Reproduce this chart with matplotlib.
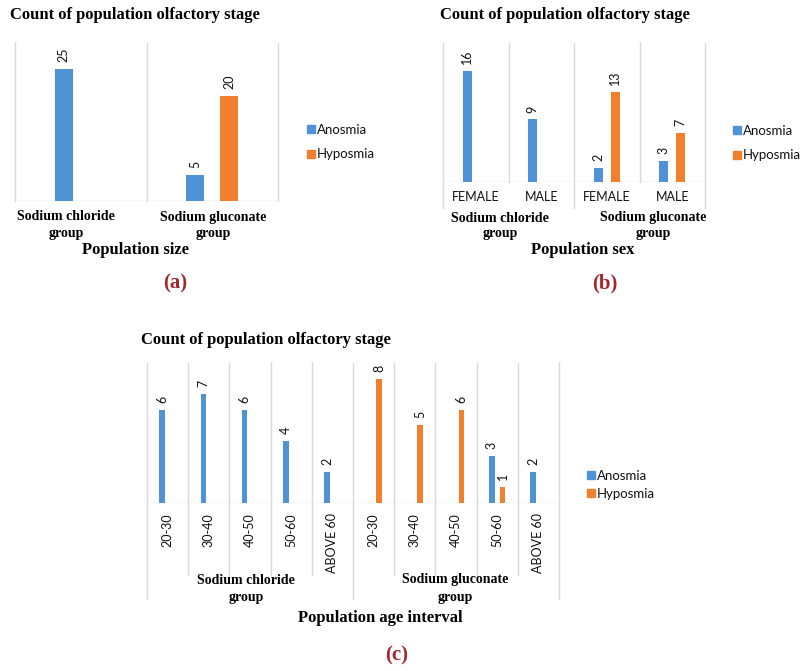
import numpy as np
import matplotlib.pyplot as plt
from matplotlib.lines import Line2D

# Data
stages = ["Anosmia", "Hyposmia"]
groups = ["Sodium chloride\ngroup", "Sodium gluconate\ngroup"]

# (a) population size
size_anosmia = [25, 5]
size_hyposmia = [0, 20]

# (b) population sex
sex_labels = ["FEMALE", "MALE", "FEMALE", "MALE"]
sex_anosmia = [16, 9, 2, 3]
sex_hyposmia = [0, 0, 13, 7]

# (c) population age interval
age_labels = ["20-30", "30-40", "40-50", "50-60", "ABOVE 60"] * 2
age_anosmia = [6, 7, 6, 4, 2, 0, 0, 0, 3, 2]
age_hyposmia = [0, 0, 0, 0, 0, 8, 5, 6, 1, 0]

BLUE = "#4F93D6"
ORANGE = "#F07F2E"
GRID = "#D9D9D9"
SERIF = "Liberation Serif"
SANS = "Lato"
INK = "#111111"
W, H = 800, 671

fig = plt.figure(figsize=(W / 100, H / 100), dpi=100)


def px_axes(x0, x1, ytop, ybase):
    return fig.add_axes([x0 / W, 1 - ybase / H, (x1 - x0) / W, (ybase - ytop) / H])


def ftext(x, y, s, **kw):
    fig.text(x / W, 1 - y / H, s, **kw)


def draw_bars(ax, anos, hypo, ymax, outer, ext_outer, ext_inner):
    n = len(anos)
    x = np.arange(n)
    off, bw = 0.13, 0.135
    ax.bar(x - off, anos, bw, color=BLUE, zorder=3)
    ax.bar(x + off, hypo, bw, color=ORANGE, zorder=3)
    for xs, vals in ((x - off, anos), (x + off, hypo)):
        for xi, v in zip(xs, vals):
            if v > 0:
                ax.annotate(str(v), (xi, v), xytext=(0, 5), textcoords="offset points",
                            rotation=90, ha="center", va="bottom", fontsize=9,
                            family=SANS, color=INK)
    ax.set_xlim(-0.5, n - 0.5)
    ax.set_ylim(0, ymax)
    ax.axis("off")
    ax.axhline(0, color=GRID, lw=1, zorder=2)
    trans = ax.get_xaxis_transform()
    hpx = ax.get_position().height * H
    for b in np.arange(-0.5, n, 1.0):
        ext = ext_outer if b in outer else ext_inner
        ax.plot([b, b], [-ext / hpx, 1], color=GRID, lw=1, transform=trans,
                clip_on=False, zorder=1)


def legend(ax, x, y, spacing):
    handles = [Line2D([], [], marker="s", ls="", color=c, markersize=5.5)
               for c in (BLUE, ORANGE)]
    leg = ax.legend(handles, stages, loc="upper left", frameon=False,
                    bbox_to_anchor=(x / W, 1 - y / H), bbox_transform=fig.transFigure,
                    handlelength=0.6, handletextpad=0.2, labelspacing=spacing,
                    borderpad=0, prop={"family": SANS, "size": 9.5})
    for t in leg.get_texts():
        t.set_color(INK)


# ---------- (a) ----------
ax_a = px_axes(15, 278, 43, 201)
draw_bars(ax_a, size_anosmia, size_hyposmia, 30, [-0.5, 0.5, 1.5], 0, 0)
ftext(10, 15, "Count of population olfactory stage", family=SERIF, weight="bold",
      fontsize=12, va="center")
for cx, g in zip([66, 213], groups):
    l1, l2 = g.split("\n")
    ftext(cx, 217, l1, family=SERIF, weight="bold", fontsize=10, ha="center", va="center")
    ftext(cx, 233, l2, family=SERIF, weight="bold", fontsize=10, ha="center", va="center")
ftext(136, 250, "Population size", family=SERIF, weight="bold", fontsize=12,
      ha="center", va="center")
ftext(175, 283, "(a)", family=SERIF, weight="bold", fontsize=15, color="#A3282E",
      ha="center", va="center")
legend(ax_a, 300, 117, 0.95)

# ---------- (b) ----------
ax_b = px_axes(443, 705, 43, 182)
draw_bars(ax_b, sex_anosmia, sex_hyposmia, 20, [-0.5, 1.5, 3.5], 26, 0)
for i, lab in enumerate(sex_labels):
    ax_b.annotate(lab, xy=(i, 0), xycoords=("data", "axes fraction"),
                  xytext=(0, -15 * 0.72), textcoords="offset points",
                  ha="center", va="center", family=SANS, fontsize=9, color=INK)
ftext(440, 15, "Count of population olfactory stage", family=SERIF, weight="bold",
      fontsize=12, va="center")
for cx, g in zip([500, 653], groups):
    l1, l2 = g.split("\n")
    ftext(cx, 218, l1, family=SERIF, weight="bold", fontsize=10, ha="center", va="center")
    ftext(cx, 233, l2, family=SERIF, weight="bold", fontsize=10, ha="center", va="center")
ftext(583, 250, "Population sex", family=SERIF, weight="bold", fontsize=12,
      ha="center", va="center")
ftext(605, 283, "(b)", family=SERIF, weight="bold", fontsize=15, color="#A3282E",
      ha="center", va="center")
legend(ax_b, 726, 118, 0.95)

# ---------- (c) ----------
ax_c = px_axes(147, 559, 363, 503)
draw_bars(ax_c, age_anosmia, age_hyposmia, 9, [-0.5, 4.5, 9.5], 96, 72)
for i, lab in enumerate(age_labels):
    ax_c.annotate(lab, xy=(i, 0), xycoords=("data", "axes fraction"),
                  xytext=(0, -10 * 0.72), textcoords="offset points", rotation=90,
                  ha="center", va="top", family=SANS, fontsize=9, color=INK)
ftext(141, 340, "Count of population olfactory stage", family=SERIF, weight="bold",
      fontsize=12, va="center")
for cx, g in zip([246, 455], groups):
    l1, l2 = g.split("\n")
    ftext(cx, 580, l1, family=SERIF, weight="bold", fontsize=10, ha="center", va="center")
    ftext(cx, 598, l2, family=SERIF, weight="bold", fontsize=10, ha="center", va="center")
ftext(380, 618, "Population age interval", family=SERIF, weight="bold", fontsize=12,
      ha="center", va="center")
ftext(397, 655, "(c)", family=SERIF, weight="bold", fontsize=15, color="#A3282E",
      ha="center", va="center")
legend(ax_c, 580, 463, 0.45)

fig.savefig("out.png", dpi=100)
